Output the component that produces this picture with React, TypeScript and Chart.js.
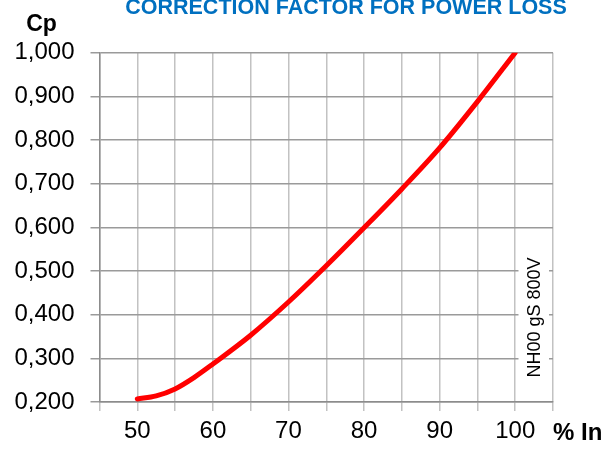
import React, { useEffect, useRef } from "react";
import { Chart, registerables } from "chart.js";

Chart.register(...registerables);

const loadPercent: number[] = [50, 52.5, 55, 57.5, 60, 65, 70, 75, 80, 85, 90, 95, 100];
const cpValues: number[] = [0.207, 0.214, 0.23, 0.256, 0.287, 0.353, 0.429, 0.512, 0.599, 0.688, 0.782, 0.888, 1.0];
const xLabelValues: number[] = [50, 60, 70, 80, 90, 100];

const titleText = "CORRECTION FACTOR FOR POWER LOSS";
const yAxisTitle = "Cp";
const xAxisTitle = "% In";
const seriesNote = "NH00 gS 800V";

const FONT = "'Liberation Sans', Arial, Helvetica, sans-serif";

const textPlugin = {
  id: "textPlugin",
  afterDraw(chart: any) {
    const ctx = chart.ctx as CanvasRenderingContext2D;
    ctx.save();
    ctx.fillStyle = "#0070C0";
    ctx.font = `bold 21.5px ${FONT}`;
    ctx.textAlign = "center";
    ctx.textBaseline = "alphabetic";
    ctx.fillText(titleText, 346, 14);
    ctx.fillStyle = "#000000";
    ctx.font = `bold 23px ${FONT}`;
    ctx.fillText(yAxisTitle, 41.5, 31);
    ctx.textAlign = "left";
    ctx.font = `bold 24px ${FONT}`;
    ctx.fillText(xAxisTitle, 553, 440);
    ctx.fillStyle = "#ffffff";
    ctx.fillRect(518.5, 249, 30.5, 138);
    ctx.translate(535, 317.5);
    ctx.rotate(-Math.PI / 2);
    ctx.fillStyle = "#000000";
    ctx.font = `18px ${FONT}`;
    ctx.textAlign = "center";
    ctx.textBaseline = "middle";
    ctx.fillText(seriesNote, 0, 0);
    ctx.restore();
  },
};

export default function App() {
  const ref = useRef<HTMLCanvasElement | null>(null);
  useEffect(() => {
    if (!ref.current) return;
    const chart = new Chart(ref.current, {
      type: "line",
      data: {
        datasets: [
          {
            data: loadPercent.map((x, i) => ({ x, y: cpValues[i] })),
            borderColor: "#FF0000",
            borderWidth: 5,
            pointRadius: 0,
            cubicInterpolationMode: "monotone",
            borderCapStyle: "round",
            fill: false,
          },
        ],
      },
      options: {
        responsive: false,
        animation: false,
        devicePixelRatio: 1,
        layout: { padding: { top: 52.7, right: 51, left: 0, bottom: 0 } },
        plugins: {
          legend: { display: false },
          title: { display: false },
          tooltip: { enabled: false },
        },
        scales: {
          x: {
            type: "linear",
            min: 45,
            max: 105,
            afterFit: (s: any) => {
              s.height = 47;
            },
            ticks: {
              stepSize: 5,
              autoSkip: false,
              maxRotation: 0,
              padding: 6,
              color: "#000000",
              font: { family: FONT, size: 24 },
              callback: (v: any) => (xLabelValues.includes(Number(v)) ? String(v) : ""),
            },
            grid: {
              color: "#c2c2c2",
              lineWidth: 1.5,
              tickLength: 9,
              drawTicks: true,
            },
            border: { color: "#8c8c8c", width: 1.5 },
          },
          y: {
            type: "linear",
            min: 0.2,
            max: 1.0,
            afterFit: (s: any) => {
              s.width = 99.5;
            },
            ticks: {
              stepSize: 0.1,
              padding: 16,
              color: "#000000",
              font: { family: FONT, size: 24 },
              callback: (v: any) => Number(v).toFixed(3).replace(".", ","),
            },
            grid: {
              color: "#9a9a9a",
              lineWidth: 1.5,
              tickLength: 9,
            },
            border: { color: "#8c8c8c", width: 1.5 },
          },
        },
      },
      plugins: [textPlugin],
    });
    return () => chart.destroy();
  }, []);
  return (
    <div style={{ position: "absolute", left: 0, top: 0, width: 604, height: 449, background: "#ffffff" }}>
      <canvas ref={ref} width={604} height={449} style={{ display: "block" }} />
    </div>
  );
}
